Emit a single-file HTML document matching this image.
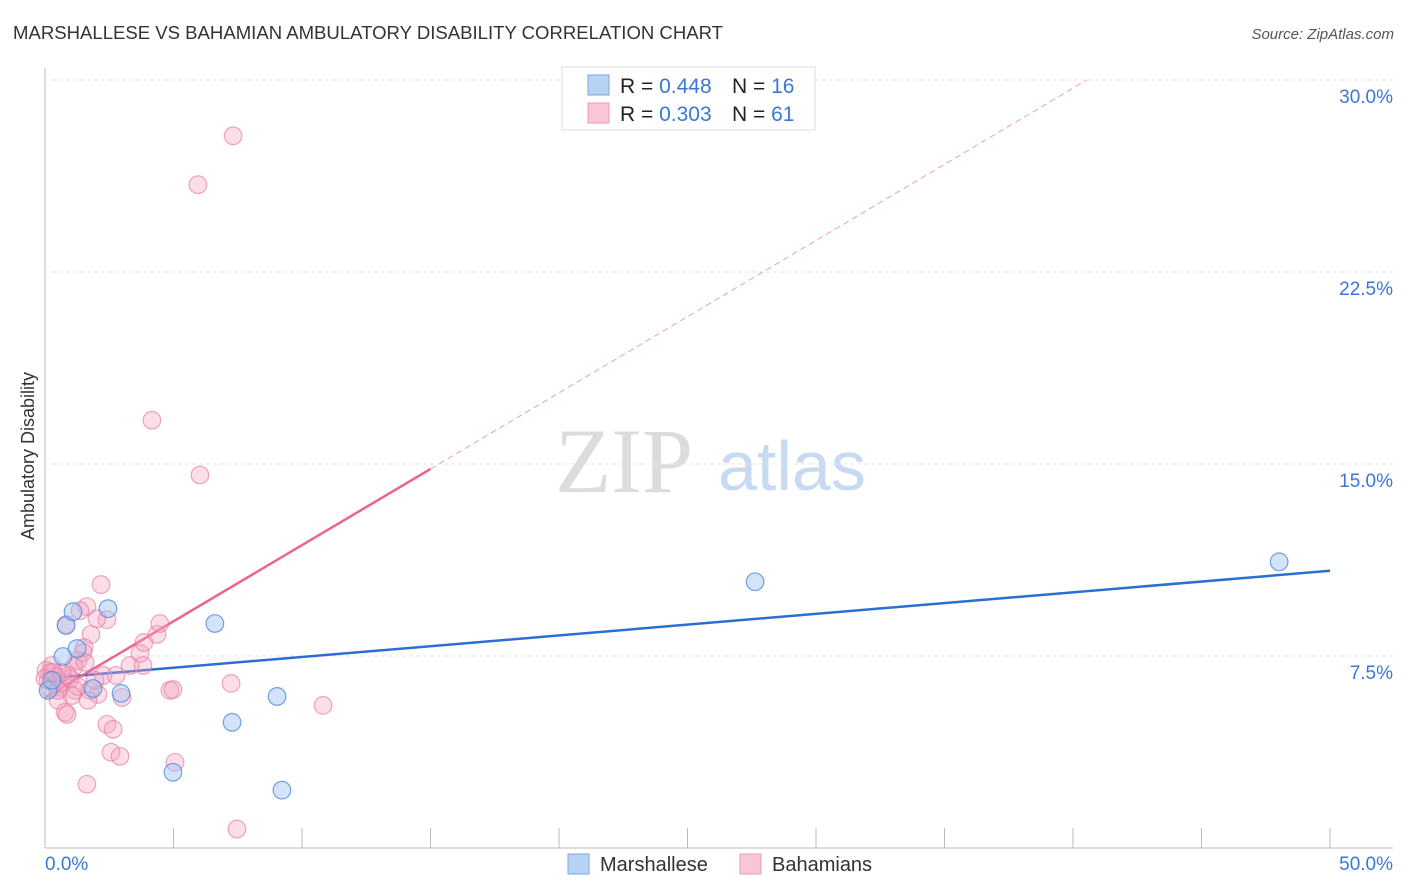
<!DOCTYPE html>
<html><head><meta charset="utf-8"><style>
body{margin:0;background:#fff;font-family:"Liberation Sans",sans-serif;}
svg{display:block}
</style></head><body>
<svg id="chart" width="1406" height="892">
<text x="13" y="39" font-size="18" fill="#333" textLength="710" lengthAdjust="spacingAndGlyphs">MARSHALLESE VS BAHAMIAN AMBULATORY DISABILITY CORRELATION CHART</text>
<text x="1394" y="39" font-size="15" fill="#555" font-style="italic" text-anchor="end">Source: ZipAtlas.com</text>
<text x="0" y="0" transform="translate(34,456) rotate(-90)" font-size="18" fill="#333" text-anchor="middle">Ambulatory Disability</text>
<g>
<text x="555" y="492" font-size="92" font-family="Liberation Serif,serif" fill="#dcdcdc">ZIP</text>
<text x="718" y="490" font-size="70" fill="#c8daf2">atlas</text>
</g>
<g id="grid"></g>
<g id="axes"></g>
<g id="lines"></g>
<g id="pts"></g>
<g>
<rect x="562" y="67" width="253" height="63" fill="#fff" stroke="#ddd"/>
<rect x="588" y="75" width="21" height="20" fill="#b8d2f4" stroke="#7aa6e2"/>
<text x="620" y="93" font-size="21" fill="#222">R = <tspan fill="#3a78d6">0.448</tspan></text>
<text x="732" y="93" font-size="21" fill="#222">N = <tspan fill="#3a78d6">16</tspan></text>
<rect x="588" y="103" width="21" height="20" fill="#f8c6d6" stroke="#eb98b4"/>
<text x="620" y="121" font-size="21" fill="#222">R = <tspan fill="#3a78d6">0.303</tspan></text>
<text x="732" y="121" font-size="21" fill="#222">N = <tspan fill="#3a78d6">61</tspan></text>
</g>
<g>
<rect x="568" y="854" width="21" height="20" fill="#b8d2f4" stroke="#7aa6e2"/>
<text x="600" y="871" font-size="20" fill="#333">Marshallese</text>
<rect x="740" y="854" width="21" height="20" fill="#f8c6d6" stroke="#eb98b4"/>
<text x="772" y="871" font-size="20" fill="#333">Bahamians</text>
</g>
</svg>
<script>
const yTicks=[7.5,15,22.5,30];
const yTickLabels=["7.5%","15.0%","22.5%","30.0%"];
const xTicks=[0,5,10,15,20,25,30,35,40,45,50];
const blueX=[0.12,0.70,0.82,1.09,1.25,2.45,1.87,2.96,4.98,6.61,7.28,9.03,9.22,27.63,48.02,0.27];
const blueY=[6.16,7.48,8.69,9.23,7.79,9.35,6.23,6.04,2.96,8.77,4.91,5.92,2.26,10.40,11.18,6.55];
const pinkX=[7.32,5.95,4.16,6.03,2.18,1.63,1.36,0.82,2.41,1.79,2.02,1.52,1.48,1.28,1.13,0.27,0.19,0.12,0.39,0.58,0.70,0.97,1.17,0.89,0.51,0.78,0.86,1.28,1.75,2.06,2.26,2.76,3.00,3.31,3.70,3.81,3.85,4.36,4.47,4.86,4.98,7.24,10.82,2.41,2.65,2.57,2.92,5.06,1.63,7.47,0.43,0.04,0.19,0.66,1.05,1.56,1.95,0.51,0.00,0.31,1.67];
const pinkY=[27.82,25.91,16.71,14.57,10.29,9.43,9.27,8.73,8.92,8.34,8.96,7.83,7.64,7.32,7.09,7.13,6.86,6.55,6.39,6.27,6.47,6.62,6.16,6.74,5.77,5.30,5.22,6.31,6.16,6.00,6.74,6.74,5.88,7.13,7.60,7.13,8.03,8.34,8.77,6.16,6.19,6.43,5.57,4.83,4.64,3.74,3.58,3.35,2.49,0.74,6.70,6.94,6.23,6.86,5.96,7.25,6.55,6.16,6.62,6.86,5.77];
const blueTrend=[6.62,10.83];
const pinkTrend=[5.88,0.595];

const X0=45,X1=1330,Y0=848,Y30=80;
const sx=v=>X0+(X1-X0)*v/50;
const sy=v=>Y0-(Y0-Y30)*v/30;
const NS="http://www.w3.org/2000/svg";
function mk(tag,attrs,parent){const e=document.createElementNS(NS,tag);for(const k in attrs)e.setAttribute(k,attrs[k]);document.getElementById(parent).appendChild(e);return e;}

yTicks.forEach((t,i)=>{
  const g=mk('line',{x1:X0,x2:1393,y1:sy(t),y2:sy(t),stroke:'#e4e4e4','stroke-dasharray':'4,3'},'grid');
  
  
  const l=mk('text',{x:1393,y:sy(t)+23,'font-size':19,fill:'#3a78d6','text-anchor':'end'},'grid');
  l.textContent=yTickLabels[i];
  
  
});
const ya=mk('line',{x1:X0,x2:X0,y1:68,y2:Y0,stroke:'#bbb'},'axes');


const xa=mk('line',{x1:X0,x2:1393,y1:Y0,y2:Y0,stroke:'#bbb'},'axes');


xTicks.forEach(t=>{
  const k=mk('line',{x1:sx(t),x2:sx(t),y1:828,y2:Y0,stroke:'#bbb'},'axes');
  
  
});
const xl0=mk('text',{x:45,y:870,'font-size':19,fill:'#3a78d6'},'axes');xl0.textContent='0.0%';


const xl1=mk('text',{x:1393,y:870,'font-size':19,fill:'#3a78d6','text-anchor':'end'},'axes');xl1.textContent='50.0%';



pinkX.forEach((x,i)=>{
  const c=mk('circle',{cx:sx(x),cy:sy(pinkY[i]),r:8.8,fill:'rgba(244,160,190,0.35)',stroke:'rgba(230,120,160,0.65)','stroke-width':1.2},'pts');
  
  
});
blueX.forEach((x,i)=>{
  const c=mk('circle',{cx:sx(x),cy:sy(blueY[i]),r:8.8,fill:'rgba(160,196,240,0.45)',stroke:'rgba(80,140,220,0.8)','stroke-width':1.2},'pts');
  
  
});
const bl=mk('line',{x1:sx(0),y1:sy(blueTrend[0]),x2:sx(50),y2:sy(blueTrend[1]),stroke:'#2a6fd4','stroke-width':2.5},'lines');


const pl=mk('line',{x1:sx(0),y1:sy(pinkTrend[0]),x2:sx(15),y2:sy(pinkTrend[0]+15*pinkTrend[1]),stroke:'#e8668f','stroke-width':2.5},'lines');


const xEnd=(30-pinkTrend[0])/pinkTrend[1];
const pd=mk('line',{x1:sx(15),y1:sy(pinkTrend[0]+15*pinkTrend[1]),x2:sx(xEnd),y2:sy(30),stroke:'#eaa0b8','stroke-width':1,'stroke-dasharray':'6,4'},'lines');


</script>
</body></html>
